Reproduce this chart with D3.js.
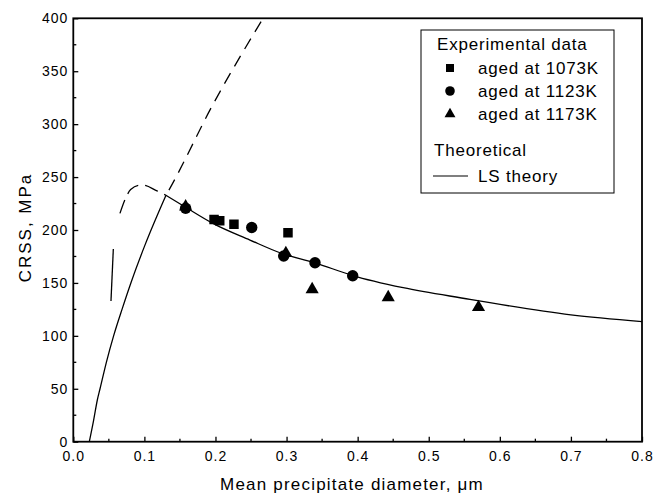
<!DOCTYPE html>
<html>
<head>
<meta charset="utf-8">
<script src="https://cdn.jsdelivr.net/npm/d3@7"></script>
<style>
  html, body { margin: 0; padding: 0; background: #fff; }
  svg { display: block; font-family: "Liberation Sans", Arial, sans-serif; }
</style>
</head>
<body>
<svg id="chart" width="654" height="495"></svg>
<script>
// ---------------- data ----------------
const xTickValues = [0, 0.1, 0.2, 0.3, 0.4, 0.5, 0.6, 0.7, 0.8];
const xMinorTicks = [0.05, 0.15, 0.25, 0.35, 0.45, 0.55, 0.65, 0.75];
const yTickValues = [0, 50, 100, 150, 200, 250, 300, 350, 400];
const yMinorTicks = [25, 75, 125, 175, 225, 275, 325, 375];

// Experimental data
const aged1073X = [0.198, 0.206, 0.226, 0.302];
const aged1073Y = [210, 208.7, 205.5, 197.4];
const aged1123X = [0.158, 0.251, 0.296, 0.340, 0.393];
const aged1123Y = [220.5, 202.4, 175.4, 169, 156.8];
const aged1173X = [0.158, 0.299, 0.336, 0.443, 0.570];
const aged1173Y = [222, 178, 143.9, 136.3, 127];

// LS theory (solid, descending branch)
const lsX = [0.1304, 0.158, 0.197, 0.2485, 0.2907, 0.340, 0.393, 0.464, 0.558, 0.586, 0.700, 0.800];
const lsY = [232.8, 221.5, 206, 190.5, 178.5, 169, 157, 145.5, 134.5, 131.3, 119.8, 113.5];
// rising branch (solid part)
const riseX = [0.0225, 0.0285, 0.0338, 0.0376, 0.0465, 0.0567, 0.069, 0.081, 0.1008, 0.1304];
const riseY = [0, 20, 39.4, 50, 75, 100, 126, 150, 185.7, 232.8];
// rising branch (dashed continuation)
const riseDashX = [0.1304, 0.1384, 0.1946, 0.267];
const riseDashY = [232.8, 242.4, 316.3, 400];
// small-diameter branch (dashed)
const leftDashX = [0.0656, 0.0741, 0.0807, 0.0938, 0.0976, 0.1177, 0.1304];
const leftDashY = [215.7, 230.8, 238.3, 242.4, 242.4, 237, 232.8];
// short solid stub of the small-diameter branch
const stubX = [0.053, 0.0563];
const stubY = [133, 182];

const legendRows = ["aged at 1073K", "aged at 1123K", "aged at 1173K"];

// ---------------- layout ----------------
const svg = d3.select("#chart");
const L = 73.3, R = 642, T = 18.3, B = 441.7;
const x = d3.scaleLinear().domain([0, 0.8]).range([L, R]);
const y = d3.scaleLinear().domain([0, 400]).range([B, T]);

const zip = (a, b) => a.map((v, i) => [v, b[i]]);

svg.append("defs").append("clipPath").attr("id", "clip")
  .append("rect").attr("x", L).attr("y", T).attr("width", R - L).attr("height", B - T);

// axes
const xAxis = d3.axisBottom(x).tickValues(xTickValues).tickFormat(d3.format(".1f"))
  .tickSizeInner(-5).tickSizeOuter(0).tickPadding(9);
const gx = svg.append("g").attr("transform", `translate(0,${B})`).call(xAxis);
const yAxis = d3.axisLeft(y).tickValues(yTickValues).tickFormat(d3.format("d"))
  .tickSizeInner(-5).tickSizeOuter(0).tickPadding(5);
const gy = svg.append("g").attr("transform", `translate(${L},0)`).call(yAxis);
[gx, gy].forEach(g => {
  g.select(".domain").remove();
  g.selectAll(".tick line").attr("stroke", "#000").attr("stroke-width", 1.3);
  g.selectAll(".tick text").attr("fill", "#000").style("font-size", "14px")
    .style("letter-spacing", "1px").style("font-family", "Liberation Sans, Arial, sans-serif");
});
// minor ticks
svg.append("g").selectAll("line").data(xMinorTicks).join("line")
  .attr("x1", d => x(d)).attr("x2", d => x(d)).attr("y1", B).attr("y2", B - 3)
  .attr("stroke", "#000").attr("stroke-width", 1.3);
svg.append("g").selectAll("line").data(yMinorTicks).join("line")
  .attr("y1", d => y(d)).attr("y2", d => y(d)).attr("x1", L).attr("x2", L + 3)
  .attr("stroke", "#000").attr("stroke-width", 1.3);

// frame
svg.append("rect").attr("x", L).attr("y", T).attr("width", R - L).attr("height", B - T)
  .attr("fill", "none").attr("stroke", "#000").attr("stroke-width", 1.8);

// curves
const line = d3.line().x(d => x(d[0])).y(d => y(d[1])).curve(d3.curveMonotoneX);
const plot = svg.append("g").attr("clip-path", "url(#clip)");
plot.append("path").attr("d", line(zip(lsX, lsY)))
  .attr("fill", "none").attr("stroke", "#000").attr("stroke-width", 1.3);
plot.append("path").attr("d", line(zip(riseX, riseY)))
  .attr("fill", "none").attr("stroke", "#000").attr("stroke-width", 1.3);
plot.append("path").attr("d", line(zip(riseDashX, riseDashY)))
  .attr("fill", "none").attr("stroke", "#000").attr("stroke-width", 1.3)
  .attr("stroke-dasharray", "12,8").attr("stroke-dashoffset", -6);
plot.append("path").attr("d", line(zip(leftDashX, leftDashY)))
  .attr("fill", "none").attr("stroke", "#000").attr("stroke-width", 1.3)
  .attr("stroke-dasharray", "14,7");
plot.append("path").attr("d", d3.line().x(d => x(d[0])).y(d => y(d[1]))(zip(stubX, stubY)))
  .attr("fill", "none").attr("stroke", "#000").attr("stroke-width", 1.3);

// markers
const sym = (type, size) => d3.symbol().type(type).size(size)();
const drawPts = (xs, ys, type, size) => {
  plot.append("g").selectAll("path").data(zip(xs, ys)).join("path")
    .attr("d", sym(type, size))
    .attr("transform", d => `translate(${x(d[0])},${y(d[1])})`)
    .attr("fill", "#000");
};
drawPts(aged1123X, aged1123Y, d3.symbolCircle, 102);
drawPts(aged1073X, aged1073Y, d3.symbolSquare, 90);
drawPts(aged1173X, aged1173Y, d3.symbolTriangle, 75);

// legend
const lg = svg.append("g");
lg.append("rect").attr("x", 421).attr("y", 30).attr("width", 193).attr("height", 163)
  .attr("fill", "#fff").attr("stroke", "#000").attr("stroke-width", 1);
const lt = (txt, tx, ty) => lg.append("text").attr("x", tx).attr("y", ty).text(txt)
  .style("font-size", "17px").style("letter-spacing", "0.8px").attr("fill", "#000");
lt("Experimental data", 437, 50);
const legendSyms = [[d3.symbolSquare, 64], [d3.symbolCircle, 72], [d3.symbolTriangle, 52]];
legendRows.forEach((r, i) => {
  const by = 74 + i * 23;
  lg.append("path").attr("d", sym(legendSyms[i][0], legendSyms[i][1]))
    .attr("transform", `translate(450,${by - 6})`).attr("fill", "#000");
  lt(r, 478, by);
});
lt("Theoretical", 434, 156);
lg.append("line").attr("x1", 433).attr("x2", 468).attr("y1", 176).attr("y2", 176)
  .attr("stroke", "#000").attr("stroke-width", 1.2);
lt("LS theory", 478, 182);

// axis titles
svg.append("text").attr("x", 352).attr("y", 490).attr("text-anchor", "middle")
  .style("font-size", "17px").style("letter-spacing", "1.2px").attr("fill", "#000")
  .text("Mean precipitate diameter, μm");
svg.append("text").attr("transform", "translate(30.7,227.5) rotate(-90)")
  .attr("text-anchor", "middle")
  .style("font-size", "17px").style("letter-spacing", "2px").attr("fill", "#000")
  .text("CRSS, MPa");
</script>
</body>
</html>
